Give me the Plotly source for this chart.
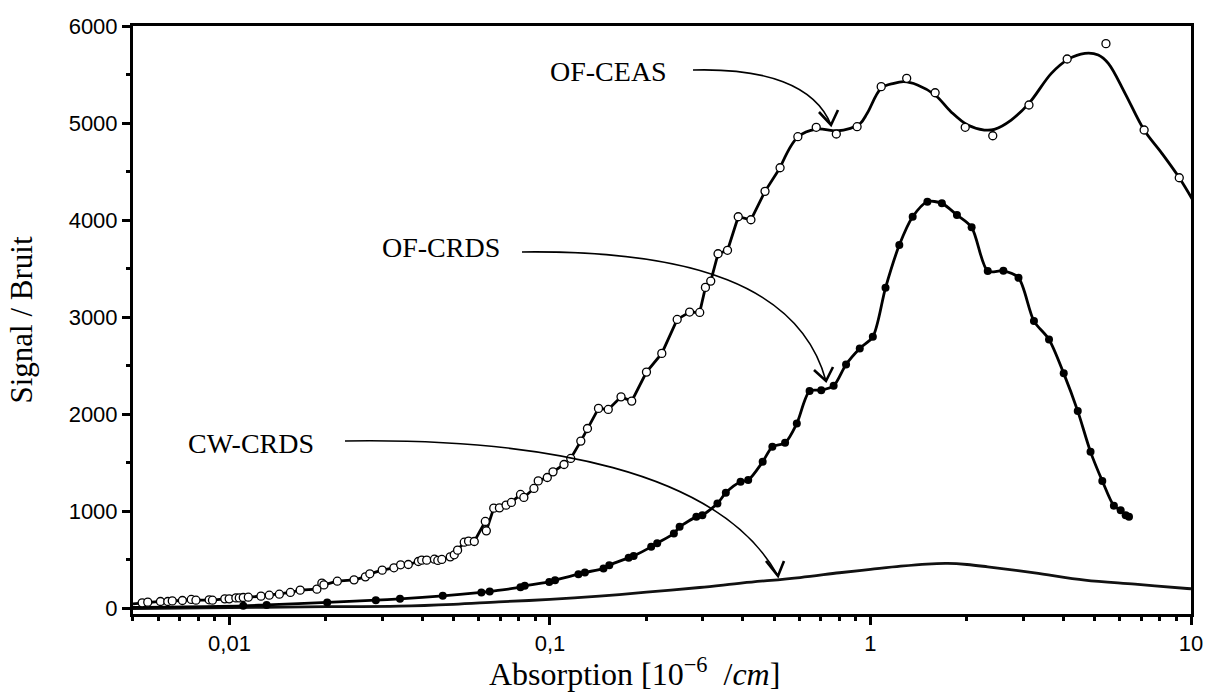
import plotly.graph_objects as go

# ---------------- data ----------------
# OF-CEAS measured points (open circles)
ceas_x = [0.00534, 0.00556, 0.00609, 0.00642, 0.00663, 0.00713, 0.00760, 0.00786, 0.00864, 0.00885,
          0.00967, 0.00998, 0.01047, 0.01073, 0.01104, 0.01145, 0.01254, 0.01331, 0.01431, 0.01549,
          0.01662, 0.01874, 0.01942, 0.01971, 0.02170, 0.02447, 0.02655, 0.02741, 0.02996, 0.03259,
          0.03420, 0.03614, 0.03884, 0.03980, 0.04124, 0.04360, 0.04467, 0.04598, 0.04884, 0.05027,
          0.05149, 0.05401, 0.05571, 0.05805, 0.06284, 0.06330, 0.06676, 0.06955, 0.07295, 0.07581,
          0.08091, 0.08289, 0.08911, 0.09191, 0.09808, 0.1022, 0.1106, 0.1161, 0.1248, 0.1309,
          0.1417, 0.1520, 0.1666, 0.1799, 0.2000, 0.2233, 0.2494, 0.2727, 0.2932, 0.3055,
          0.3174, 0.3345, 0.3580, 0.3867, 0.4236, 0.4687, 0.5223, 0.5934, 0.6772, 0.7823,
          0.9082, 1.080, 1.297, 1.591, 1.975, 2.407, 3.122, 4.108, 5.428, 7.141, 9.192]
ceas_y = [55, 62, 69, 69, 75, 79, 90, 82, 86, 82,
          96, 96, 106, 106, 110, 113, 124, 134, 144, 162,
          186, 196, 258, 240, 278, 292, 323, 354, 392, 416,
          447, 450, 481, 495, 495, 505, 492, 502, 529, 550,
          598, 680, 691, 687, 894, 797, 1031, 1034, 1062, 1090,
          1172, 1141, 1234, 1312, 1347, 1405, 1481, 1543, 1722, 1852,
          2059, 2048, 2178, 2134, 2433, 2626, 2976, 3052, 3048, 3306,
          3371, 3653, 3688, 4034, 4003, 4296, 4539, 4859, 4956, 4887,
          4962, 5375, 5461, 5312, 4956, 4869, 5186, 5660, 5818, 4928, 4436]

# OF-CEAS smooth fitted curve (upper part)
ceas_fit_x = [0.5223, 0.5934, 0.6772, 0.7823, 0.8656, 0.9304, 0.9766, 1.080, 1.183, 1.272,
              1.401, 1.591, 1.782, 2.010, 2.266, 2.435, 2.748, 3.122, 3.667, 4.136,
              4.665, 5.137, 5.521, 6.226, 7.140, 8.111, 9.191, 10.2]
ceas_fit_y = [4539, 4856, 4938, 4918, 4945, 4997, 5100, 5358, 5409, 5426,
              5392, 5289, 5117, 4979, 4928, 4935, 5031, 5203, 5512, 5656,
              5718, 5701, 5615, 5306, 4928, 4688, 4436, 4189]
ceas_start = (0.005, 45)

# OF-CRDS measured points (filled circles)
crds_x = [0.01104, 0.01306, 0.02018, 0.02862, 0.03404, 0.04629, 0.06108, 0.06485, 0.0809, 0.0834,
          0.0995, 0.1037, 0.1227, 0.1285, 0.1469, 0.1531, 0.1760, 0.1824, 0.2069, 0.2160,
          0.2435, 0.2538, 0.2862, 0.2988, 0.3330, 0.3537, 0.3932, 0.4154, 0.4609, 0.4941,
          0.5414, 0.5890, 0.6456, 0.7022, 0.7674, 0.8390, 0.9258, 1.017, 1.114, 1.230,
          1.354, 1.505, 1.670, 1.861, 2.068, 2.322, 2.598, 2.896, 3.236, 3.606,
          4.008, 4.433, 4.859, 5.287, 5.747, 6.034, 6.254, 6.406]
crds_y = [24, 34, 59, 82, 96, 127, 162, 172, 216, 230,
          271, 289, 350, 368, 409, 443, 519, 539, 632, 670,
          770, 838, 941, 959, 1079, 1189, 1302, 1320, 1508, 1663,
          1704, 1904, 2237, 2247, 2292, 2512, 2677, 2797, 3302, 3742,
          4034, 4189, 4172, 4052, 3925, 3474, 3477, 3405, 2959, 2770,
          2420, 2031, 1611, 1312, 1055, 1010, 959, 941]
crds_start = (0.005, 8)

# CW-CRDS continuous trace
cw_x = [0.005, 0.01, 0.02, 0.0337, 0.05, 0.0692, 0.1, 0.1426, 0.2, 0.293,
        0.4, 0.603, 0.8, 1.0, 1.242, 1.5, 1.74, 2.0, 2.322, 3.251,
        4.665, 6.69, 9.72, 10.0]
cw_y = [-5, 5, 15, 21, 40, 65, 90, 124, 165, 213,
        260, 316, 365, 400, 433, 455, 461, 450, 426, 364,
        289, 247, 203, 200]

x_tick_vals = [0.01, 0.1, 1, 10]
x_tick_text = ["0,01", "0,1", "1", "10"]
y_tick_vals = [0, 1000, 2000, 3000, 4000, 5000, 6000]
y_tick_text = ["0", "1000", "2000", "3000", "4000", "5000", "6000"]

labels = ["OF-CEAS", "OF-CRDS", "CW-CRDS"]
x_title = "Absorption [10<sup>−6</sup>\u00a0\u00a0/<i>cm</i>]"
y_title = "Signal / Bruit"

# ---------------- figure ----------------
W, H = 1207, 696
L, R, T, B = 133, 16, 26, 82

def px(X, Y):
    return (X - L) / (W - L - R), (H - B - Y) / (H - B - T)

fig = go.Figure()

fig.add_trace(go.Scatter(x=cw_x, y=cw_y, mode="lines", line=dict(color="#111", width=2.8, shape="spline"),
                         hoverinfo="skip", showlegend=False))

fig.add_trace(go.Scatter(x=[crds_start[0]] + crds_x, y=[crds_start[1]] + crds_y, mode="lines",
                         line=dict(color="black", width=2.8, shape="spline", smoothing=0.8),
                         showlegend=False))

low_x = [ceas_start[0]] + [v for v in ceas_x if v <= 0.5223]
low_y = [ceas_start[1]] + [ceas_y[i] for i, v in enumerate(ceas_x) if v <= 0.5223]
fig.add_trace(go.Scatter(x=low_x, y=low_y, mode="lines", line=dict(color="black", width=2.8),
                         showlegend=False))
fig.add_trace(go.Scatter(x=ceas_fit_x, y=ceas_fit_y, mode="lines",
                         line=dict(color="black", width=2.8, shape="spline"), showlegend=False))

fig.add_trace(go.Scatter(x=crds_x, y=crds_y, mode="markers",
                         marker=dict(symbol="circle", size=8, color="black", line=dict(width=0)),
                         name=labels[1], showlegend=False))
fig.add_trace(go.Scatter(x=ceas_x, y=ceas_y, mode="markers",
                         marker=dict(symbol="circle", size=8, color="white", line=dict(color="black", width=1.3)),
                         name=labels[0], showlegend=False))

serif = "Liberation Serif"
sans = "Liberation Sans"

# labels + curved arrows (decoration, in pixel space of the page)
arrows = [
    # text, text centre, bezier path, chevron arm ends
    (labels[0], (608, 71), [(693, 70), (765, 68), (815, 85), (831, 125)], [(819, 112), (838, 110)]),
    (labels[1], (441, 248), [(522, 252), (690, 250), (800, 285), (826, 381)], [(814, 370), (833, 367)]),
    (labels[2], (251, 443), [(345, 441), (540, 438), (720, 470), (778, 576)], [(766, 561), (784, 561)]),
]
shapes = []
annotations = []
for txt, (cx, cy), pts, arms in arrows:
    xp, yp = px(cx, cy)
    annotations.append(dict(text=txt, x=xp, y=yp, xref="paper", yref="paper", showarrow=False,
                            xanchor="center", yanchor="middle", font=dict(family=serif, size=28, color="black")))
    p = [px(*q) for q in pts]
    path = "M {:.5f},{:.5f} C {:.5f},{:.5f} {:.5f},{:.5f} {:.5f},{:.5f}".format(
        p[0][0], p[0][1], p[1][0], p[1][1], p[2][0], p[2][1], p[3][0], p[3][1])
    shapes.append(dict(type="path", path=path, xref="paper", yref="paper",
                       line=dict(color="black", width=1.6)))
    a1, a2 = px(*arms[0]), px(*arms[1])
    head = "M {:.5f},{:.5f} L {:.5f},{:.5f} L {:.5f},{:.5f}".format(a1[0], a1[1], p[3][0], p[3][1], a2[0], a2[1])
    shapes.append(dict(type="path", path=head, xref="paper", yref="paper",
                       line=dict(color="black", width=2.6)))

# x-axis title as annotation (centred as in the reference)
tx, ty = px(634, 672)
annotations.append(dict(text=x_title, x=tx, y=ty, xref="paper", yref="paper", showarrow=False,
                        xanchor="center", yanchor="middle", font=dict(family=serif, size=32, color="black")))

minor_x = [k * 10 ** e for e in range(-3, 1) for k in range(2, 10) if 0.005 <= k * 10 ** e <= 10]

fig.update_layout(
    width=W, height=H,
    margin=dict(l=L, r=R, t=T, b=B),
    paper_bgcolor="white", plot_bgcolor="white",
    shapes=shapes, annotations=annotations,
    showlegend=False,
    xaxis=dict(type="log", range=[-2.301, 1.0], showgrid=False, zeroline=False, automargin=False,
               showline=True, linewidth=3, linecolor="black", mirror=True,
               ticks="outside", ticklen=8, tickwidth=2.5, tickcolor="black",
               tickvals=x_tick_vals, ticktext=x_tick_text,
               tickfont=dict(family=sans, size=22, color="black"),
               minor=dict(tickvals=minor_x, ticks="outside", ticklen=4, tickwidth=2.5, tickcolor="black")),
    yaxis=dict(range=[-60, 6000], showgrid=False, zeroline=False, automargin=False,
               showline=True, linewidth=3, linecolor="black", mirror=True,
               ticks="outside", ticklen=8, tickwidth=2.5, tickcolor="black",
               tickvals=y_tick_vals, ticktext=y_tick_text,
               tickfont=dict(family=sans, size=22, color="black"),
               minor=dict(dtick=500, ticks="outside", ticklen=4, tickwidth=2.5, tickcolor="black"),
               title=dict(text=y_title, font=dict(family=serif, size=31, color="black"), standoff=27)),
)

fig.write_html("out.html", config={"displayModeBar": False},
               post_script="document.body.style.margin='0';document.body.style.overflow='hidden';")
